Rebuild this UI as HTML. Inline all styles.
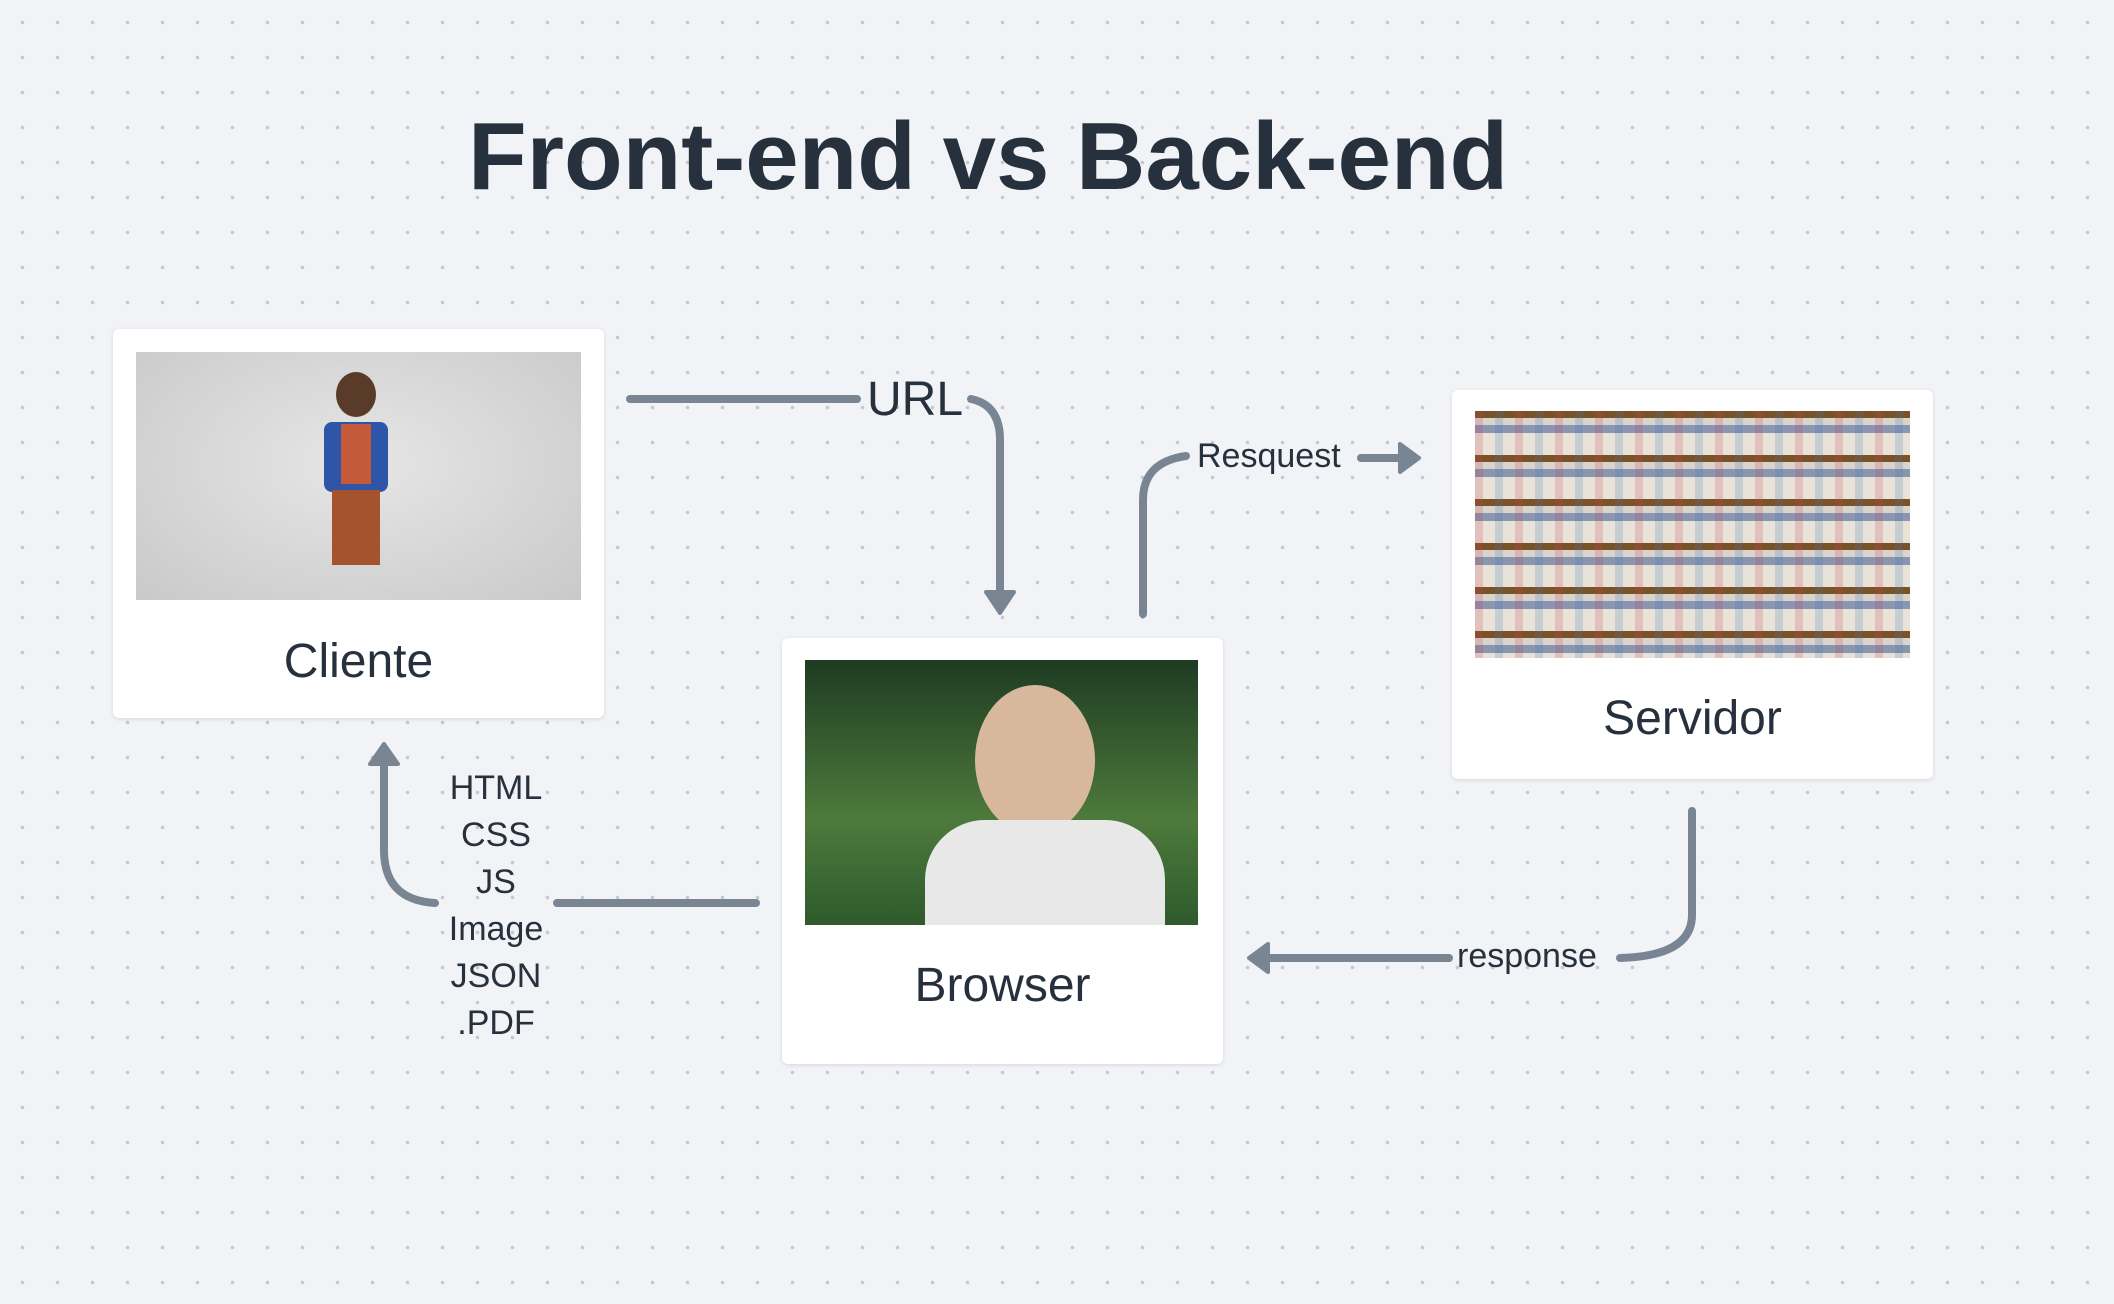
<!DOCTYPE html>
<html><head><meta charset="utf-8"><style>
html,body{margin:0;padding:0}
body{width:2114px;height:1304px;position:relative;overflow:hidden;background-color:#f1f3f6;
background-image:radial-gradient(circle,#c3c9d1 1.6px,transparent 2px);background-size:35px 35px;background-position:5px 5px;
font-family:"Liberation Sans",sans-serif;color:#27313d}
.title{position:absolute;left:468px;top:102px;font-size:96px;font-weight:bold;letter-spacing:0px;white-space:nowrap}
.card{position:absolute;background:#fff;border-radius:6px;box-shadow:0 1px 4px rgba(0,0,0,.12)}
.img{position:absolute}
.lbl{position:absolute;left:0;right:0;text-align:center;font-size:48px}
.t{position:absolute;font-size:34px;color:#27313d;white-space:nowrap}
</style></head><body>
<div class="title">Front-end vs Back-end</div>

<div class="card" style="left:113px;top:329px;width:491px;height:389px">
 <div class="img" style="left:23px;top:23px;width:445px;height:248px;background:radial-gradient(ellipse at 50% 45%,#e6e6e6,#c9c9c9)">
  <div style="position:absolute;left:200px;top:20px;width:40px;height:45px;border-radius:50%;background:#5a3a28"></div>
  <div style="position:absolute;left:188px;top:70px;width:64px;height:70px;background:#2f55a8;border-radius:8px"></div>
  <div style="position:absolute;left:205px;top:72px;width:30px;height:60px;background:#c45a3a"></div>
  <div style="position:absolute;left:196px;top:138px;width:48px;height:75px;background:#a5522e"></div>
 </div>
 <div class="lbl" style="top:305px">Cliente</div>
</div>

<div class="card" style="left:782px;top:638px;width:441px;height:426px">
 <div class="img" style="left:23px;top:22px;width:393px;height:265px;background:linear-gradient(180deg,#1f3b22,#4d7a3c 60%,#2f5a2c)">
  <div style="position:absolute;left:170px;top:25px;width:120px;height:150px;border-radius:50%;background:#d8b89c"></div>
  <div style="position:absolute;left:120px;top:160px;width:240px;height:105px;border-radius:60px 60px 0 0;background:#e8e8e8"></div>
 </div>
 <div class="lbl" style="top:320px">Browser</div>
</div>

<div class="card" style="left:1452px;top:390px;width:481px;height:389px">
 <div class="img" style="left:23px;top:21px;width:435px;height:247px;background:repeating-linear-gradient(180deg,#7a5228 0 7px,#d9d4cc 7px 14px,#8a96b0 14px 22px,#e8e2d8 22px 44px)">
  <div style="position:absolute;left:0;top:0;width:100%;height:100%;background:repeating-linear-gradient(90deg,rgba(200,60,80,.2) 0 8px,transparent 8px 20px,rgba(60,120,180,.2) 20px 28px,transparent 28px 40px)"></div>
 </div>
 <div class="lbl" style="top:301px">Servidor</div>
</div>

<svg width="2114" height="1304" style="position:absolute;left:0;top:0" fill="none" stroke="#7a8594" stroke-width="8" stroke-linecap="round">
 <path d="M630 399 H857"/>
 <path d="M971 399 Q1000 405 1000 440 V598"/>
 <path d="M986 592 L1000 613 L1014 592 Z" fill="#7a8594" stroke-width="4" stroke-linejoin="round"/>
 <path d="M1143 614 V500 Q1143 462 1186 456"/>
 <path d="M1361 458 H1402"/>
 <path d="M1400 444 L1419 458 L1400 472 Z" fill="#7a8594" stroke-width="4" stroke-linejoin="round"/>
 <path d="M1692 811 V915 Q1692 956 1620 958"/>
 <path d="M1449 958 H1270"/>
 <path d="M1268 944 L1249 958 L1268 972 Z" fill="#7a8594" stroke-width="4" stroke-linejoin="round"/>
 <path d="M557 903 H756"/>
 <path d="M435 903 Q384 900 384 850 V760"/>
 <path d="M370 764 L384 744 L398 764 Z" fill="#7a8594" stroke-width="4" stroke-linejoin="round"/>
</svg>

<div class="t" style="left:867px;top:372px;font-size:48px">URL</div>
<div class="t" style="left:1197px;top:437px;font-size:34px">Resquest</div>
<div class="t" style="left:1457px;top:937px;font-size:34px">response</div>
<div class="t" style="left:420px;top:765px;width:152px;text-align:center;font-size:34px;line-height:47px">HTML<br>CSS<br>JS<br>Image<br>JSON<br>.PDF</div>
</body></html>
